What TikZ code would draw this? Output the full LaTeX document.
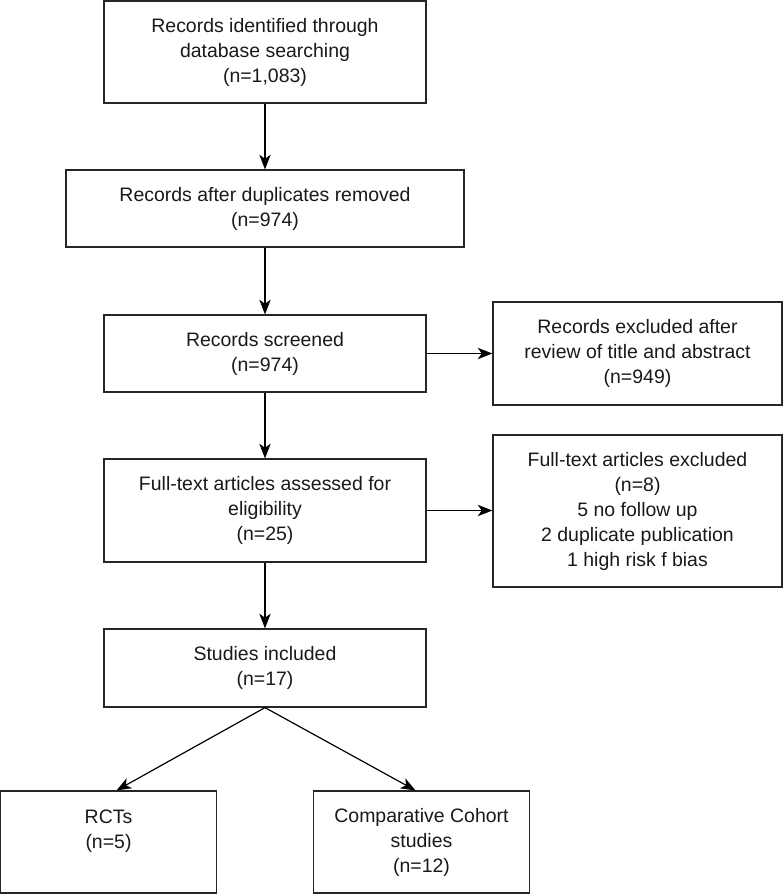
\documentclass[tikz,border=0pt]{standalone}
\usepackage{fontspec}
\setmainfont{Liberation Sans}
\usetikzlibrary{arrows.meta,calc}
\begin{document}
\begin{tikzpicture}[x=0.75pt,y=-0.75pt,
  box/.style={draw=black!85,line width=0.9pt,rectangle,inner sep=0pt,align=center,
    font=\fontsize{14.6}{18.75}\selectfont,text=black!90},
  arr/.style={draw=black,line width=0.9pt,-{Stealth[length=11pt,width=8.5pt,inset=3pt]}}]
\useasboundingbox (0,0) rectangle (783,894);
\node[box,minimum width=241.5pt,minimum height=76.5pt] (b1) at (265,52) {Records identified through\\database searching\\(n=1,083)};
\node[box,minimum width=298.5pt,minimum height=57.75pt] (b2) at (265,208.5) {Records after duplicates removed\\(n=974)};
\node[box,minimum width=241.5pt,minimum height=57.75pt] (b3) at (265,353.5) {Records screened\\(n=974)};
\node[box,minimum width=216.75pt,minimum height=77.25pt] (b4) at (637.5,353.5) {Records excluded after\\review of title and abstract\\(n=949)};
\node[box,minimum width=241.5pt,minimum height=77.25pt] (b5) at (265,510.5) {Full-text articles assessed for\\eligibility\\(n=25)};
\node[box,minimum width=216.75pt,minimum height=114pt] (b6) at (637.5,511) {Full-text articles excluded\\(n=8)\\5 no follow up\\2 duplicate publication\\1 high risk f bias};
\node[box,minimum width=241.5pt,minimum height=58.5pt] (b7) at (265,668) {Studies included\\(n=17)};
\node[box,minimum width=161.6pt,minimum height=76.5pt] (b8) at (108.5,842) {RCTs\\(n=5)\\~};
\node[box,minimum width=161.6pt,minimum height=76.5pt] (b9) at (421.5,842) {Comparative Cohort\\studies\\(n=12)};
\coordinate (t8) at ($(b8.north)+(6pt,0)$);
\coordinate (t9) at ($(b9.north)+(-4.5pt,0)$);
\draw[arr] (b1.south) -- (b2.north);
\draw[arr] (b2.south) -- (b3.north);
\draw[arr] (b3.south) -- (b5.north);
\draw[arr] (b5.south) -- (b7.north);
\draw[arr] (b3.east) -- (b3.east -| b4.west);
\draw[arr] (b5.east) -- (b5.east -| b6.west);
\draw[arr] (b7.south) -- (t8);
\draw[arr] (b7.south) -- (t9);
\end{tikzpicture}
\end{document}
